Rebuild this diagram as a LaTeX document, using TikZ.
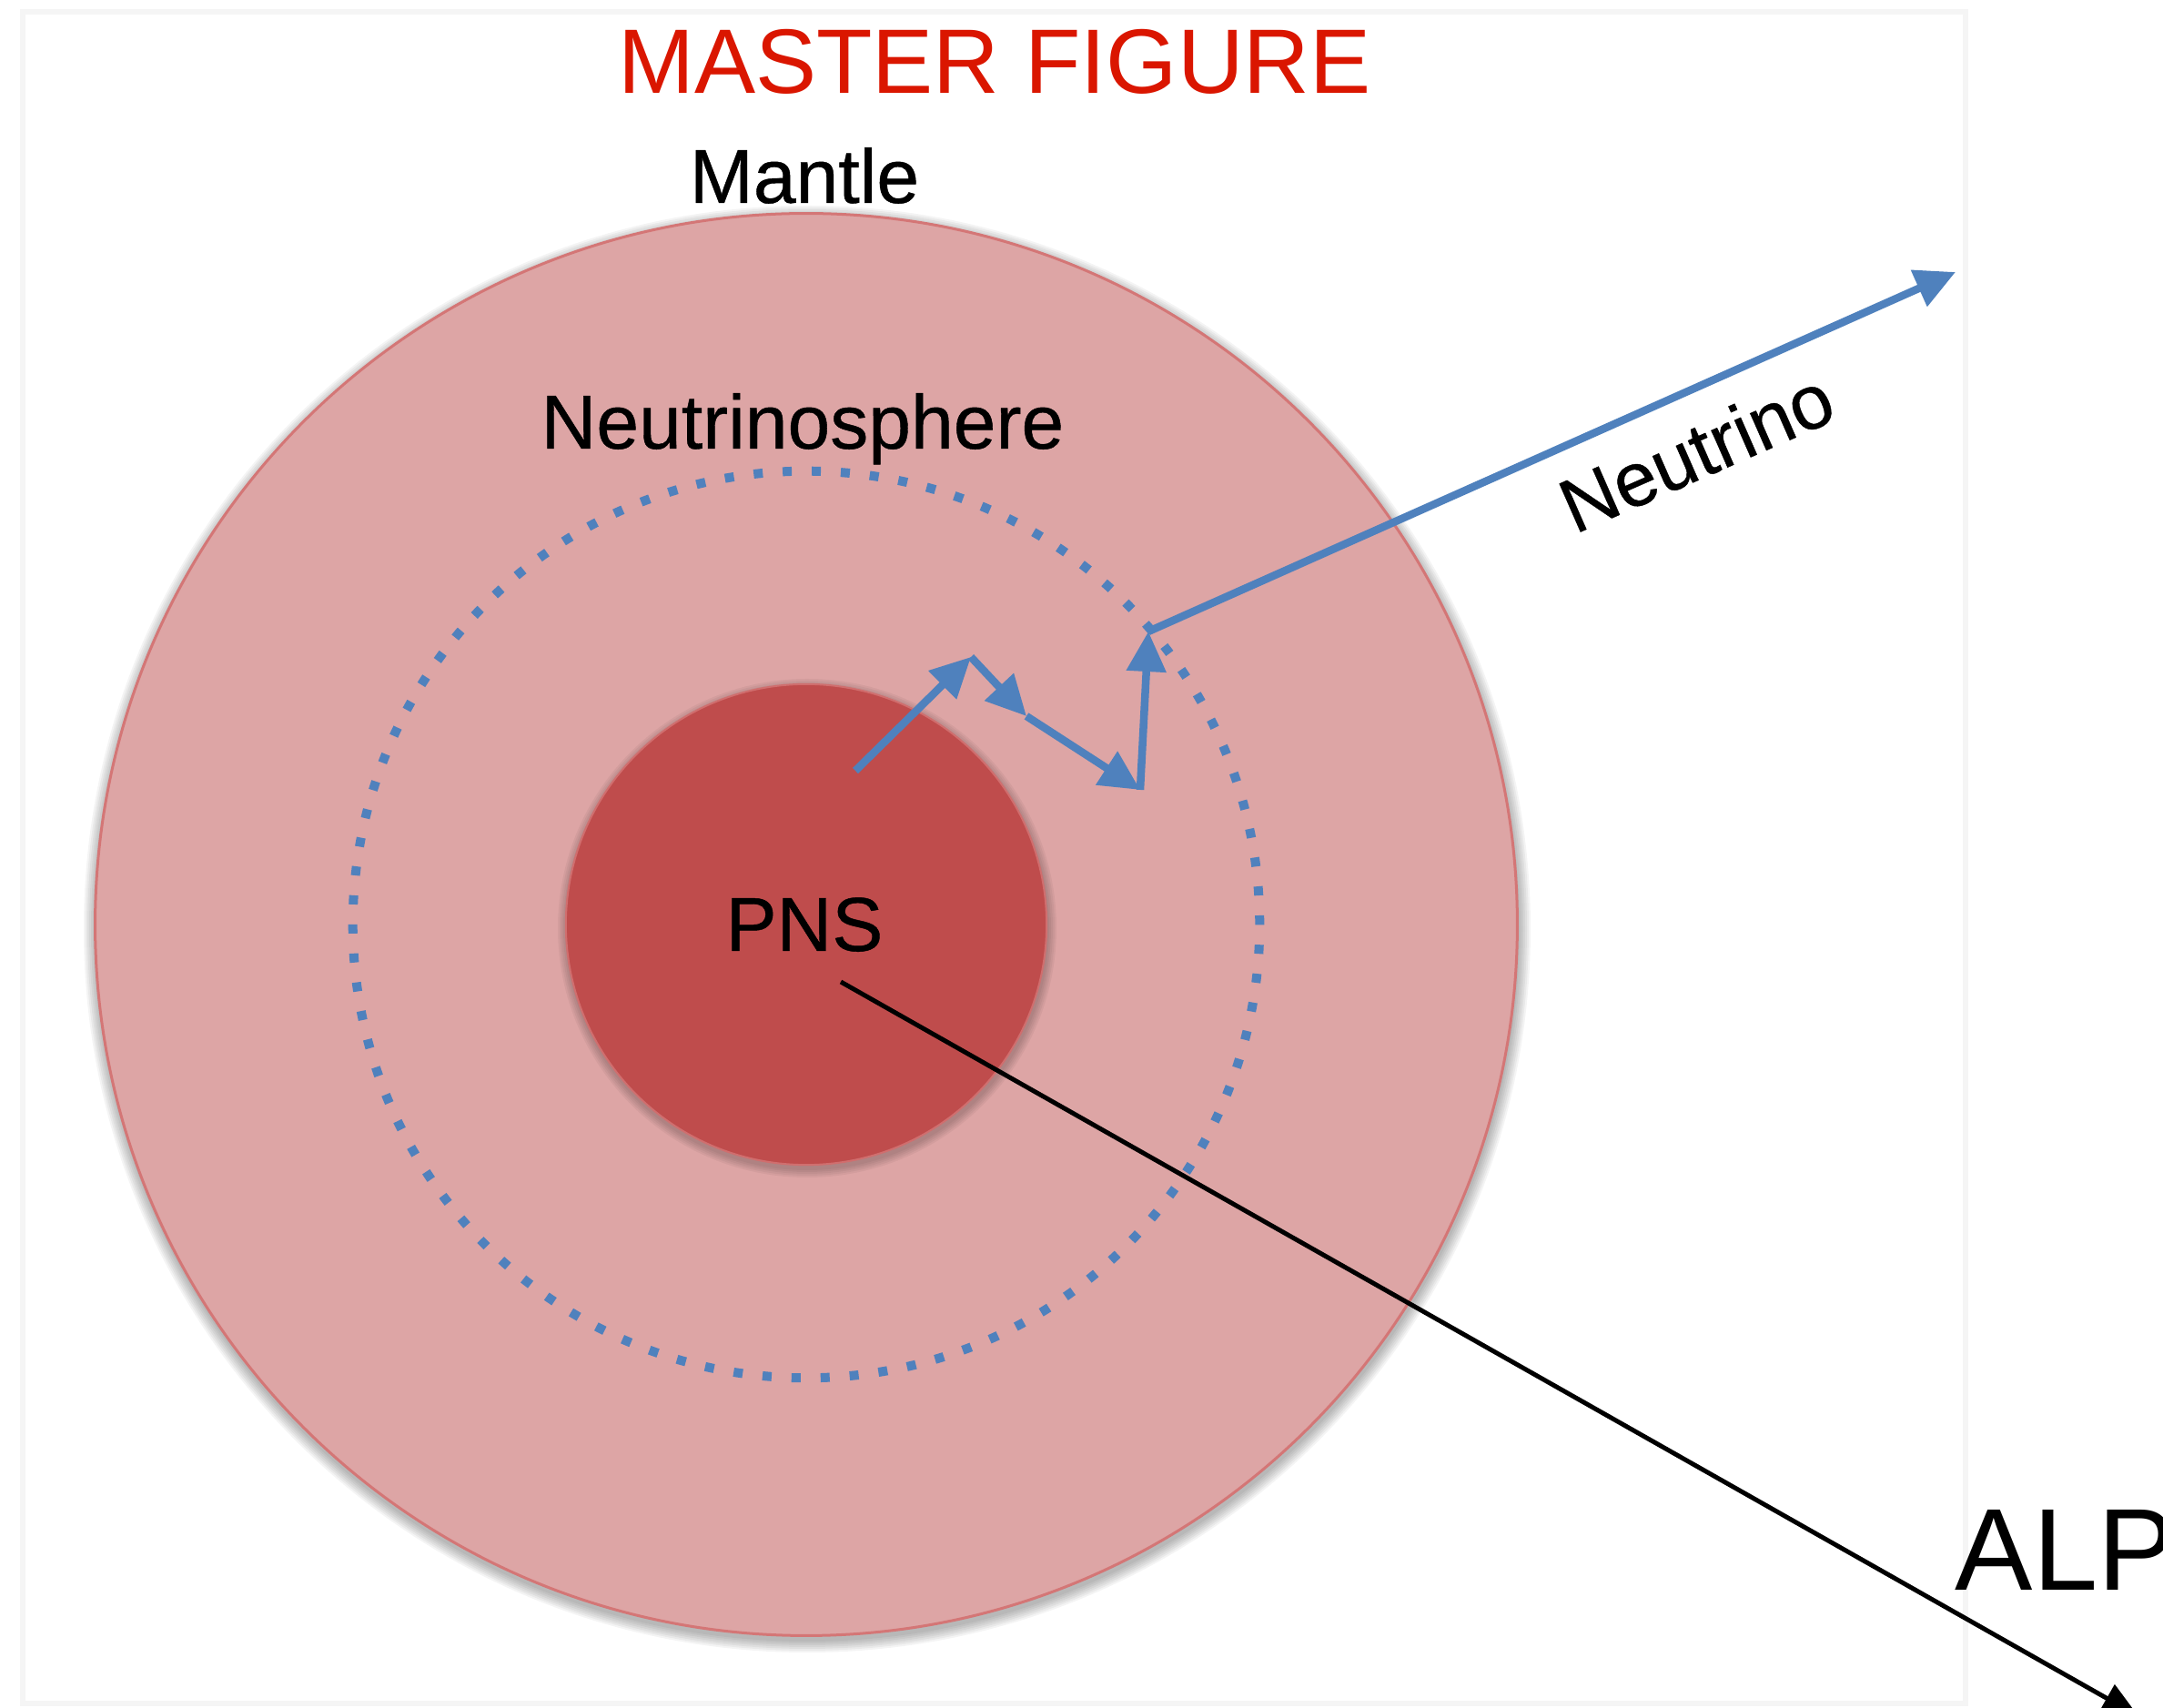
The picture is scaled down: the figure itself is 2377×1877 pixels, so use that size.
\documentclass[tikz,border=0pt]{standalone}
\usepackage{fontspec}
\setmainfont{Liberation Sans}
\newfontfamily\lblfont{Liberation Sans}[FakeBold=0.5]
\usetikzlibrary{arrows.meta}
\definecolor{mantlefill}{RGB}{221,165,165}
\definecolor{mantleedge}{RGB}{212,118,118}
\definecolor{pnsfill}{RGB}{191,76,76}
\definecolor{pnsedge}{RGB}{208,110,110}
\definecolor{nublue}{RGB}{79,129,189}
\definecolor{titlered}{RGB}{218,22,0}
\definecolor{framegray}{RGB}{245,245,245}
\begin{document}
\begin{tikzpicture}[x=0.01cm,y=-0.01cm,
  lbl/.style={inner sep=0pt, font=\lblfont\fontsize{23.9pt}{28pt}\selectfont, text=black},
  ttl/.style={inner sep=0pt, font=\fontsize{28.6pt}{34pt}\selectfont, text=titlered},
  alpstyle/.style={inner sep=0pt, font=\fontsize{36.4pt}{42pt}\selectfont, text=black},
  mantlestyle/.style={circle, inner sep=0pt, minimum size=15.62cm, fill=mantlefill, draw=mantleedge, line width=0.03cm},
  pnsstyle/.style={circle, inner sep=0pt, minimum size=5.28cm, fill=pnsfill, draw=pnsedge, line width=0.02cm},
  spherestyle/.style={circle, inner sep=0pt, minimum size=9.96cm, draw=nublue, line width=0.1cm, dash pattern=on 0.1cm off 0.2193cm},
  nuarrow/.style={draw=nublue, line width=0.085cm, -{Triangle[length=0.44cm,width=0.42cm]}},
  alparrow/.style={draw=black, line width=0.05cm, -{Triangle[length=0.40cm,width=0.34cm]}},
  shadowlayer/.style={fill=black, opacity=0.045}
]
\useasboundingbox (0,0) rectangle (2377,1877);
\fill[white] (0,0) rectangle (2377,1877);
\draw[framegray, line width=0.06cm] (25,13) rectangle (2160,1872);

% shadow of the mantle
\foreach \d in {1,...,7}{
  \fill[shadowlayer] (887,1021) circle ({781+2*\d});
}
\node[mantlestyle] (mantle) at (886,1016) {};

% neutrinosphere
\node[spherestyle] (sphere) at (886,1016) {};

% PNS shadow and disc
\foreach \d in {1,...,5}{
  \fill[shadowlayer] (887,1020) circle ({264+2*\d});
}
\node[pnsstyle] (pns) at (886,1016) {};

% labels
\node[ttl, anchor=base] (title) at (1093,103) {MASTER FIGURE};
\node[lbl, anchor=base] (mantlelbl) at (884,223) {Mantle};
\node[lbl, anchor=base] (spherelbl) at (882,493) {Neutrinosphere};
\node[lbl, anchor=base] (pnslbl) at (884,1045) {PNS};
\node[alpstyle, anchor=base west] (alplbl) at (2148,1748) {ALP};
\node[lbl, rotate=23.7] (nulbl) at (1864,496) {Neutrino};

% neutrino random walk
\coordinate (n0) at (940,847);
\coordinate (n1) at (1067,722);
\coordinate (n2) at (1128,787);
\coordinate (n3) at (1253,868);
\coordinate (n4) at (1262,694);
\coordinate (n5) at (2149,299);
\draw[nuarrow] (n0) -- (n1);
\draw[nuarrow] (n1) -- (n2);
\draw[nuarrow] (n2) -- (n3);
\draw[nuarrow] (n3) -- (n4);
\draw[nuarrow] (n4) -- (n5);

% ALP
\coordinate (a0) at (924,1079);
\coordinate (a1) at (2350,1886);
\draw[alparrow] (a0) -- (a1);
\end{tikzpicture}
\end{document}
